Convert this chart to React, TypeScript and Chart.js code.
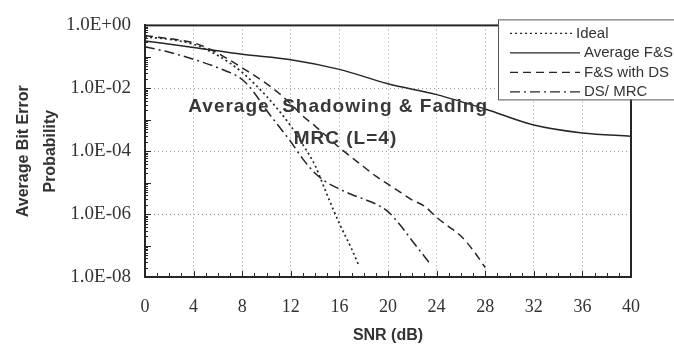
import React, { useEffect, useRef } from 'react';
import { Chart, registerables } from 'chart.js';

Chart.register(...registerables);

// ---------- data ----------
const seriesNames = ['Ideal', 'Average F&S', 'F&S with DS', 'DS/ MRC'];

const idealSnr = [0, 2, 4, 6, 7, 8, 9, 10, 11, 12, 13, 14, 15, 16, 17, 17.6];
const idealBer = [0.43, 0.36, 0.25, 0.11, 0.063, 0.032, 0.014, 5.6e-3, 2.0e-3, 6.3e-4, 1.6e-4, 3.5e-5, 4.0e-6, 5.0e-7, 7.9e-8, 2.3e-8];

const avgSnr = [0, 4, 8, 12, 16, 20, 24, 28, 32, 36, 40];
const avgBer = [0.32, 0.2, 0.12, 0.081, 0.04, 0.014, 6.3e-3, 2.2e-3, 6.8e-4, 3.8e-4, 3.0e-4];

const dsSnr = [0, 2, 4, 5, 6, 8, 10, 11, 12, 13, 14, 16, 18, 19, 20, 21, 22, 23, 24, 25, 26, 27, 28];
const dsBer = [0.47, 0.38, 0.28, 0.2, 0.13, 0.045, 0.014, 7.1e-3, 3.2e-3, 1.3e-3, 6.3e-4, 1.3e-4, 3.2e-5, 1.6e-5, 8.9e-6, 5.0e-6, 2.8e-6, 1.8e-6, 7.9e-7, 4.0e-7, 2.0e-7, 7.1e-8, 2.0e-8];

const mrcSnr = [0, 2, 4, 6, 8, 9, 10, 11, 12, 13, 14, 15, 16, 17, 18, 19, 20, 21, 22, 23, 23.5];
const mrcBer = [0.21, 0.14, 0.083, 0.045, 0.019, 7.1e-3, 2.0e-3, 6.3e-4, 2.0e-4, 5.6e-5, 2.0e-5, 1.0e-5, 6.3e-6, 4.2e-6, 3.0e-6, 2.1e-6, 1.2e-6, 4.5e-7, 1.4e-7, 4.5e-8, 2.5e-8];

const xTickValues = [0, 4, 8, 12, 16, 20, 24, 28, 32, 36, 40];
const yTickValues = [1, 1e-2, 1e-4, 1e-6, 1e-8];
const yTickLabels = ['1.0E+00', '1.0E-02', '1.0E-04', '1.0E-06', '1.0E-08'];

const xTitle = 'SNR (dB)';
const yTitle = ['Average Bit Error', 'Probability'];

const noteLines = ['Average  Shadowing & Fading', 'MRC (L=4)'];
const noteSnr = [15.9, 16.5];
const noteBer = [2.6e-3, 2.5e-4];

// ---------- styles ----------
const INK = '#262626';
const dashes: number[][] = [[2, 3], [], [8, 5], [10, 4, 2, 4]];

const pts = (xs: number[], ys: number[]) => xs.map((x, i) => ({ x, y: ys[i] }));

const overlayPlugin = {
  id: 'overlay',
  beforeDraw(chart: any) {
    const { ctx, width, height } = chart;
    ctx.save();
    ctx.fillStyle = '#ffffff';
    ctx.fillRect(0, 0, width, height);
    ctx.restore();
  },
  afterDraw(chart: any) {
    const { ctx, chartArea: a, scales } = chart;
    const xs = scales.x;
    const ys = scales.y;
    ctx.save();
    // minor ticks on x (every 1 dB), pointing inside
    ctx.strokeStyle = INK;
    ctx.lineWidth = 1;
    ctx.beginPath();
    for (let v = 0; v <= 40; v++) {
      const px = Math.round(xs.getPixelForValue(v)) + 0.5;
      const len = v % 4 === 0 ? 6 : 4;
      ctx.moveTo(px, a.bottom);
      ctx.lineTo(px, a.bottom - len);
    }
    // minor ticks on y (log)
    for (let e = -8; e < 0; e++) {
      for (let m = 1; m <= 9; m++) {
        const val = m * Math.pow(10, e);
        const py = Math.round(ys.getPixelForValue(val)) + 0.5;
        const len = m === 1 ? 6 : 3;
        ctx.moveTo(a.left, py);
        ctx.lineTo(a.left + len, py);
      }
    }
    ctx.stroke();

    // plot frame
    ctx.lineWidth = 2;
    ctx.strokeStyle = INK;
    ctx.strokeRect(a.left, a.top, a.right - a.left, a.bottom - a.top);

    // annotation text
    ctx.fillStyle = '#383838';
    ctx.font = 'bold 19px "Liberation Sans", Arial, sans-serif';
    try { (ctx as any).letterSpacing = '1px'; } catch (e) { /* ignore */ }
    ctx.textAlign = 'center';
    ctx.textBaseline = 'middle';
    noteLines.forEach((t, i) => {
      ctx.fillText(t, xs.getPixelForValue(noteSnr[i]), ys.getPixelForValue(noteBer[i]));
    });
    try { (ctx as any).letterSpacing = '0px'; } catch (e) { /* ignore */ }

    // legend box
    const lx = a.right - 133;
    const ly = a.top - 6;
    ctx.fillStyle = '#ffffff';
    ctx.fillRect(lx, ly, chart.width - lx + 10, 80);
    ctx.strokeStyle = '#555';
    ctx.lineWidth = 1;
    ctx.strokeRect(lx + 0.5, ly + 0.5, chart.width - lx + 10, 80);
    ctx.font = '15px "Liberation Sans", Arial, sans-serif';
    ctx.textAlign = 'left';
    ctx.textBaseline = 'middle';
    chart.data.datasets.forEach((ds: any, i: number) => {
      const yy = ly + 14 + i * 19.5;
      const textX = i === 0 ? lx + 78 : lx + 86;
      ctx.save();
      ctx.strokeStyle = INK;
      ctx.lineWidth = 1.4;
      ctx.setLineDash(ds.borderDash || []);
      ctx.beginPath();
      ctx.moveTo(lx + 12, yy);
      ctx.lineTo(textX - 4, yy);
      ctx.stroke();
      ctx.restore();
      ctx.fillStyle = '#333';
      ctx.fillText(ds.label, textX, yy);
    });
    ctx.restore();
  },
};

export default function App() {
  const ref = useRef<HTMLCanvasElement | null>(null);

  useEffect(() => {
    document.body.style.margin = '0';
    const canvas = ref.current;
    if (!canvas) return;
    const series = [
      pts(idealSnr, idealBer),
      pts(avgSnr, avgBer),
      pts(dsSnr, dsBer),
      pts(mrcSnr, mrcBer),
    ];
    const gridCommon = {
      color: '#9a9a9a',
      lineWidth: 1,
      drawTicks: false,
    };
    const chart = new Chart(canvas, {
      type: 'line',
      data: {
        datasets: series.map((d, i) => ({
          label: seriesNames[i],
          data: d,
          borderColor: INK,
          backgroundColor: INK,
          borderWidth: i === 0 ? 1.7 : 1.5,
          borderDash: dashes[i],
          pointRadius: 0,
          fill: false,
          cubicInterpolationMode: 'monotone' as const,
        })),
      },
      options: {
        responsive: false,
        animation: false,
        devicePixelRatio: 1,
        layout: { padding: { top: 14, right: 43, bottom: 0, left: 0 } },
        plugins: { legend: { display: false }, tooltip: { enabled: false } },
        scales: {
          x: {
            type: 'linear',
            min: 0,
            max: 40,
            afterBuildTicks: (s: any) => {
              s.ticks = xTickValues.map((v) => ({ value: v }));
            },
            afterFit: (s: any) => {
              s.height = 68;
            },
            ticks: {
              font: { family: '"Liberation Serif", "Times New Roman", serif', size: 18 },
              color: '#333',
              padding: 19,
              maxRotation: 0,
              autoSkip: false,
              callback: (v: any) => String(v),
            },
            grid: gridCommon,
            border: { color: INK, width: 2, dash: [1, 3] },
            title: {
              display: true,
              text: xTitle,
              color: '#333',
              font: { family: '"Liberation Sans", Arial, sans-serif', weight: 'bold', size: 16 },
              padding: { top: 0, bottom: 0 },
            },
          },
          y: {
            type: 'logarithmic',
            min: 1e-8,
            max: 1,
            afterBuildTicks: (s: any) => {
              s.ticks = yTickValues.map((v) => ({ value: v }));
            },
            afterFit: (s: any) => {
              s.width = 145;
            },
            ticks: {
              font: { family: '"Liberation Serif", "Times New Roman", serif', size: 19 },
              color: '#333',
              padding: 14,
              autoSkip: false,
              callback: (v: any) => {
                const lv = Math.log10(Number(v));
                let best = 0;
                yTickValues.forEach((t, i) => {
                  if (Math.abs(Math.log10(t) - lv) < Math.abs(Math.log10(yTickValues[best]) - lv)) best = i;
                });
                return yTickLabels[best];
              },
            },
            grid: gridCommon,
            border: { color: INK, width: 2, dash: [1, 3] },
            title: {
              display: true,
              text: yTitle,
              color: '#333',
              font: { family: '"Liberation Sans", Arial, sans-serif', weight: 'bold', size: 16, lineHeight: '27px' },
              padding: { top: 10, bottom: 0 },
            },
          },
        },
      } as any,
      plugins: [overlayPlugin],
    });
    return () => chart.destroy();
  }, []);

  return (
    <div style={{ width: 674, height: 345, position: 'relative' }}>
      <canvas ref={ref} width={674} height={345} />
    </div>
  );
}
